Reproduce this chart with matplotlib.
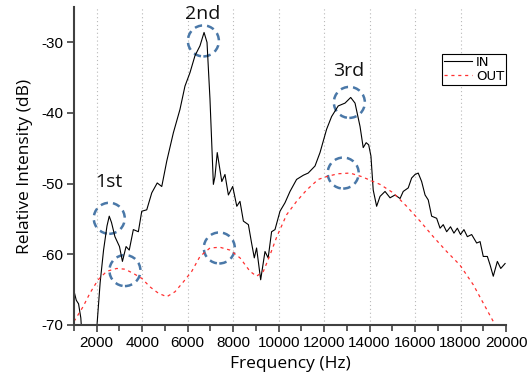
import numpy as np
import matplotlib
matplotlib.use('Agg')
import matplotlib.pyplot as plt
from matplotlib.patches import Ellipse

plt.rcParams['axes.unicode_minus'] = False

# ---------------------------------- data ----------------------------------
in_freq = [1000, 1100, 1200, 1300, 1400, 1900, 2000, 2150, 2300, 2450, 2550, 2650, 2800, 3000,
           3130, 3290, 3430, 3610, 3830, 3980, 4200, 4420, 4660, 4860, 5080, 5370, 5660, 5880,
           6100, 6320, 6540, 6720, 6850, 6980, 7130, 7200, 7300, 7500, 7640, 7790, 7980, 8160,
           8300, 8450, 8670, 8810, 8930, 9030, 9210, 9400, 9540, 9690, 9840, 10060, 10280,
           10500, 10790, 11090, 11300, 11600, 11820, 12110, 12330, 12620, 12920, 13170, 13360,
           13580, 13720, 13850, 13960, 14060, 14160, 14310, 14460, 14680, 14900, 15120, 15340,
           15480, 15700, 15850, 16000, 16140, 16290, 16440, 16580, 16730, 16950, 17100, 17240,
           17390, 17560, 17710, 17860, 18000, 18150, 18300, 18490, 18710, 18860, 19000, 19180,
           19300, 19440, 19620, 19770, 19960]
in_db = [-65.2, -66.5, -67.0, -69.0, -74.0, -76.0, -70.5, -64.0, -59.4, -56.0, -54.6, -55.5,
         -57.5, -58.9, -61.0, -58.9, -59.4, -56.5, -56.8, -53.9, -53.7, -51.3, -49.9, -50.4,
         -46.8, -42.8, -39.5, -36.2, -34.3, -31.9, -30.5, -28.6, -30.0, -38.0, -50.1, -49.0,
         -45.6, -49.7, -48.7, -51.6, -50.4, -53.2, -52.5, -55.3, -55.8, -58.4, -60.5, -59.1,
         -63.6, -59.6, -60.5, -56.8, -56.5, -53.9, -52.7, -51.1, -49.4, -48.8, -48.5, -47.5,
         -45.6, -42.3, -40.5, -39.0, -38.6, -37.8, -38.6, -41.9, -44.9, -44.2, -44.5, -46.1,
         -50.9, -53.2, -51.8, -51.1, -52.0, -51.6, -52.1, -51.1, -50.6, -49.2, -48.7, -48.5,
         -49.7, -51.6, -52.3, -54.6, -54.9, -56.3, -55.8, -56.8, -56.1, -57.0, -56.3, -57.2,
         -56.5, -57.5, -57.2, -58.4, -58.2, -60.3, -60.3, -61.5, -63.1, -61.0, -62.0, -61.3]

out_freq = [1000, 1400, 1700, 2060, 2440, 2880, 3240, 3610, 3980, 4340, 4710, 5080, 5440, 5810,
            6180, 6540, 6980, 7420, 7860, 8300, 8740, 9030, 9330, 9620, 9920, 10350, 10790,
            11230, 11740, 12110, 12600, 13140, 13650, 14160, 14460, 15040, 15630, 16220, 16800,
            17390, 17970, 18560, 19000, 19440, 19700]
out_db = [-69.5, -67.4, -65.5, -63.6, -62.4, -62.0, -62.1, -62.7, -63.4, -64.6, -65.5, -66.0,
          -65.3, -63.9, -62.4, -60.3, -59.1, -59.0, -59.4, -60.5, -62.4, -63.1, -62.4, -60.1,
          -57.5, -54.4, -52.5, -50.9, -49.4, -49.0, -48.6, -48.5, -49.0, -49.7, -50.1, -51.3,
          -53.2, -55.3, -57.5, -59.6, -61.5, -64.3, -66.9, -69.5, -71.5]

# peak markers (circle centres) and their labels
circle_x = [2550, 6690, 13110, 3240, 7390, 12840]
circle_y = [-54.9, -29.8, -38.5, -62.3, -59.1, -48.5]
peak_labels = ['1st', '2nd', '3rd']
label_x = [2540, 6670, 13100]
label_y = [-49.7, -26.0, -34.1]

# ---------------------------------- figure ----------------------------------
fig = plt.figure(figsize=(5.29, 3.77), dpi=100)
ax = fig.add_axes([74 / 529, 52 / 377, 432 / 529, 318 / 377])

ax.plot(in_freq, in_db, '-', color='black', linewidth=0.8, label='IN')
ax.plot(out_freq, out_db, '--', color='#ff3030', linewidth=0.9, dashes=(2.5, 3), label='OUT')

ax.set_xlim(1000, 20000)
ax.set_ylim(-70, -25)

# circles: radius ~15.5 px in both directions
px_x = 19000 / 432
px_y = 45 / 318
for cx, cy in zip(circle_x, circle_y):
    ax.add_patch(Ellipse((cx, cy), 31 * px_x, 31 * px_y, fill=False, edgecolor='#4a78a8',
                         linewidth=1.8, linestyle=(0, (3, 2))))

for t, x, y in zip(peak_labels, label_x, label_y):
    ax.text(x, y, t, ha='center', va='center', fontsize=14, family='Open Sans', color='#111111')

ax.set_xticks(np.arange(2000, 20001, 2000))
ax.set_xticks(np.arange(1000, 20001, 1000), minor=True)
ax.set_yticks([-30, -40, -50, -60, -70])
for xv in range(2000, 20000, 2000):
    ax.axvline(xv, color='#b8b8b8', linewidth=0.8, linestyle=(0, (1, 2.5)), zorder=0)

ax.spines['top'].set_visible(False)
ax.spines['right'].set_visible(False)
for s in ['left', 'bottom']:
    ax.spines[s].set_color('#404040')
    ax.spines[s].set_linewidth(1.5)
ax.tick_params(which='both', direction='out', color='#404040', width=1.2)
ax.tick_params(which='major', length=5, labelsize=11, pad=3)
ax.tick_params(which='minor', length=4)
for lab in ax.get_xticklabels() + ax.get_yticklabels():
    lab.set_family('Liberation Sans')

ax.set_xlabel('Frequency (Hz)', fontsize=12.5, family='Open Sans', labelpad=4)
ax.set_ylabel('Relative Intensity (dB)', fontsize=12.5, family='Open Sans', labelpad=6)

leg = ax.legend(loc='upper right', bbox_to_anchor=(1.0, 0.853), fontsize=9.5, frameon=True,
                fancybox=False, edgecolor='black', framealpha=1, borderpad=0.15,
                labelspacing=0.1, handlelength=2.1, handletextpad=0.3, borderaxespad=0)
leg.get_frame().set_linewidth(0.8)

fig.savefig('out.png', dpi=100)
